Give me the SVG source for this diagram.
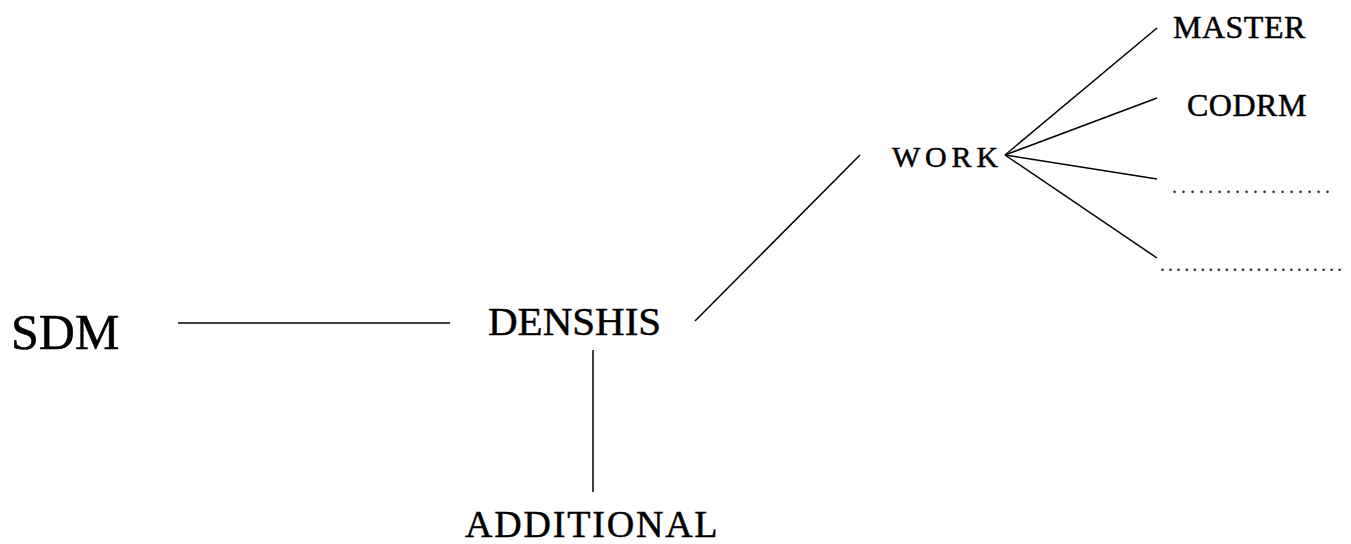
<svg xmlns="http://www.w3.org/2000/svg" width="1351" height="544" viewBox="0 0 1351 544">
  <style>
    .lbl { font-family: "Liberation Serif", "Times New Roman", serif; fill: #000; stroke: #000; stroke-width: 0.5; }
    .dots { font-family: "Liberation Serif", "Times New Roman", serif; fill: #222; }
    .conn line { stroke: #000; stroke-width: 1.5; fill: none; }
  </style>
  <rect width="1351" height="544" fill="#fff"/>

  <!-- tree connectors -->
  <g id="connectors" class="conn">
    <line x1="178" y1="323" x2="450" y2="323"/>
    <line x1="593" y1="350" x2="593" y2="492"/>
    <line x1="695" y1="321" x2="860" y2="155"/>
    <line x1="1005" y1="155" x2="1157" y2="28"/>
    <line x1="1005" y1="155" x2="1157" y2="98"/>
    <line x1="1005" y1="155" x2="1157" y2="179"/>
    <line x1="1005" y1="155" x2="1157" y2="258"/>
  </g>

  <g id="sdm"><text class="lbl" x="11" y="349" font-size="50">SDM</text></g>
  <g id="denshis"><text class="lbl" x="488" y="335" font-size="41">DENSHIS</text></g>
  <g id="additional"><text class="lbl" x="465" y="537" font-size="38" letter-spacing="1.8">ADDITIONAL</text></g>
  <g id="work"><text class="lbl" x="892" y="167" font-size="30" letter-spacing="4.8">WORK</text></g>
  <g id="master"><text class="lbl" x="1173" y="38" font-size="32" letter-spacing="0.5">MASTER</text></g>
  <g id="codrm"><text class="lbl" x="1187" y="116" font-size="32" letter-spacing="0.5">CODRM</text></g>
  <g id="more1"><text class="dots" x="1172" y="193" font-size="20" textLength="158" lengthAdjust="spacing">..................</text></g>
  <g id="more2"><text class="dots" x="1160" y="271" font-size="20" textLength="182" lengthAdjust="spacing">.......................</text></g>
</svg>
